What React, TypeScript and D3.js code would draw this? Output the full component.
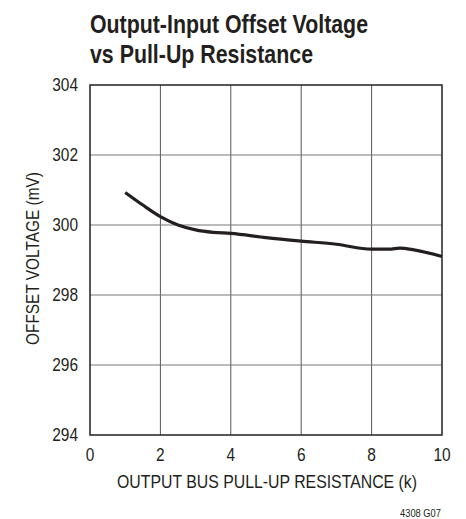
import { useEffect, useRef } from 'react';
import * as d3 from 'd3';

const W = 466;
const H = 519;
const M = { top: 85, right: 24, bottom: 84, left: 90 };

// pull-up resistance (k) and offset voltage (mV)
const resistance = [1, 1.5, 2, 2.5, 3, 3.5, 4, 5, 6, 7, 8, 8.5, 8.8, 9.2, 10];
const offset = [300.93, 300.57, 300.24, 300.0, 299.86, 299.79, 299.76, 299.64, 299.54, 299.45, 299.31, 299.31, 299.34, 299.29, 299.1];

const xTicks = [0, 2, 4, 6, 8, 10];
const yTicks = [294, 296, 298, 300, 302, 304];

const FONT = "'Liberation Sans', Arial, sans-serif";
const INK = '#231f20';
const NARROW = 0.86; // squeeze to look like a condensed face

type Sel = d3.Selection<any, unknown, null, undefined>;

// condensed text: drawn in a squeezed group so the glyphs look narrow
function label(parent: Sel, tx: number, ty: number, txt: string, size: number, anchor = 'start', weight = 'normal', rot = 0) {
  parent
    .append('g')
    .attr('transform', `translate(${tx},${ty}) rotate(${rot}) scale(${NARROW},1)`)
    .append('text')
    .attr('text-anchor', anchor)
    .attr('font-family', FONT)
    .attr('font-size', size)
    .attr('font-weight', weight)
    .attr('fill', INK)
    .text(txt);
}

export default function App() {
  const ref = useRef<SVGSVGElement>(null);

  useEffect(() => {
    const svg = d3.select(ref.current);
    svg.selectAll('*').remove();

    const iw = W - M.left - M.right;
    const ih = H - M.top - M.bottom;
    const x = d3.scaleLinear().domain([0, 10]).range([0, iw]);
    const y = d3.scaleLinear().domain([294, 304]).range([ih, 0]);

    // title, fitted to the widths in the original
    svg
      .append('text')
      .attr('x', M.left)
      .attr('y', 32.5)
      .attr('font-family', FONT)
      .attr('font-weight', 'bold')
      .attr('font-size', 26)
      .attr('fill', INK)
      .attr('textLength', 278)
      .attr('lengthAdjust', 'spacingAndGlyphs')
      .text('Output-Input Offset Voltage');
    svg
      .append('text')
      .attr('x', M.left)
      .attr('y', 62.5)
      .attr('font-family', FONT)
      .attr('font-weight', 'bold')
      .attr('font-size', 26)
      .attr('fill', INK)
      .attr('textLength', 223)
      .attr('lengthAdjust', 'spacingAndGlyphs')
      .text('vs Pull-Up Resistance');

    const g = svg.append('g').attr('transform', `translate(${M.left},${M.top})`);

    // grid
    g.selectAll('line.vx')
      .data(xTicks.slice(1, -1))
      .join('line')
      .attr('x1', (d) => x(d))
      .attr('x2', (d) => x(d))
      .attr('y1', 0)
      .attr('y2', ih)
      .attr('stroke', '#555')
      .attr('stroke-width', 1);
    g.selectAll('line.hy')
      .data(yTicks.slice(1, -1))
      .join('line')
      .attr('x1', 0)
      .attr('x2', iw)
      .attr('y1', (d) => y(d))
      .attr('y2', (d) => y(d))
      .attr('stroke', '#777')
      .attr('stroke-width', 1);

    g.append('rect')
      .attr('width', iw)
      .attr('height', ih)
      .attr('fill', 'none')
      .attr('stroke', INK)
      .attr('stroke-width', 1.5);

    // tick labels
    xTicks.forEach((t) => label(g, x(t), ih + 25.5, String(t), 18, 'middle'));
    yTicks.forEach((t) => label(g, -12, y(t) + 6, String(t), 18, 'end'));

    // curve
    const line = d3
      .line<number>()
      .x((_, i) => x(resistance[i]))
      .y((d) => y(d))
      .curve(d3.curveMonotoneX);
    g.append('path')
      .datum(offset)
      .attr('d', line)
      .attr('fill', 'none')
      .attr('stroke', INK)
      .attr('stroke-width', 3.2);

    // axis titles
    svg
      .append('text')
      .attr('x', 117)
      .attr('y', 488)
      .attr('font-family', FONT)
      .attr('font-size', 18)
      .attr('fill', INK)
      .attr('textLength', 300)
      .attr('lengthAdjust', 'spacingAndGlyphs')
      .text('OUTPUT BUS PULL-UP RESISTANCE (k)');
    svg
      .append('text')
      .attr('transform', `translate(38.5,345) rotate(-90)`)
      .attr('font-family', FONT)
      .attr('font-size', 18)
      .attr('fill', INK)
      .attr('textLength', 173)
      .attr('lengthAdjust', 'spacingAndGlyphs')
      .text('OFFSET VOLTAGE (mV)');

    svg
      .append('text')
      .attr('x', 400)
      .attr('y', 516.5)
      .attr('font-family', FONT)
      .attr('font-size', 11.5)
      .attr('fill', INK)
      .attr('textLength', 41)
      .attr('lengthAdjust', 'spacingAndGlyphs')
      .text('4308 G07');
  }, []);

  return (
    <svg
      ref={ref}
      width={W}
      height={H}
      viewBox={`0 0 ${W} ${H}`}
      style={{ position: 'absolute', left: 0, top: 0, background: '#fff' }}
    />
  );
}
